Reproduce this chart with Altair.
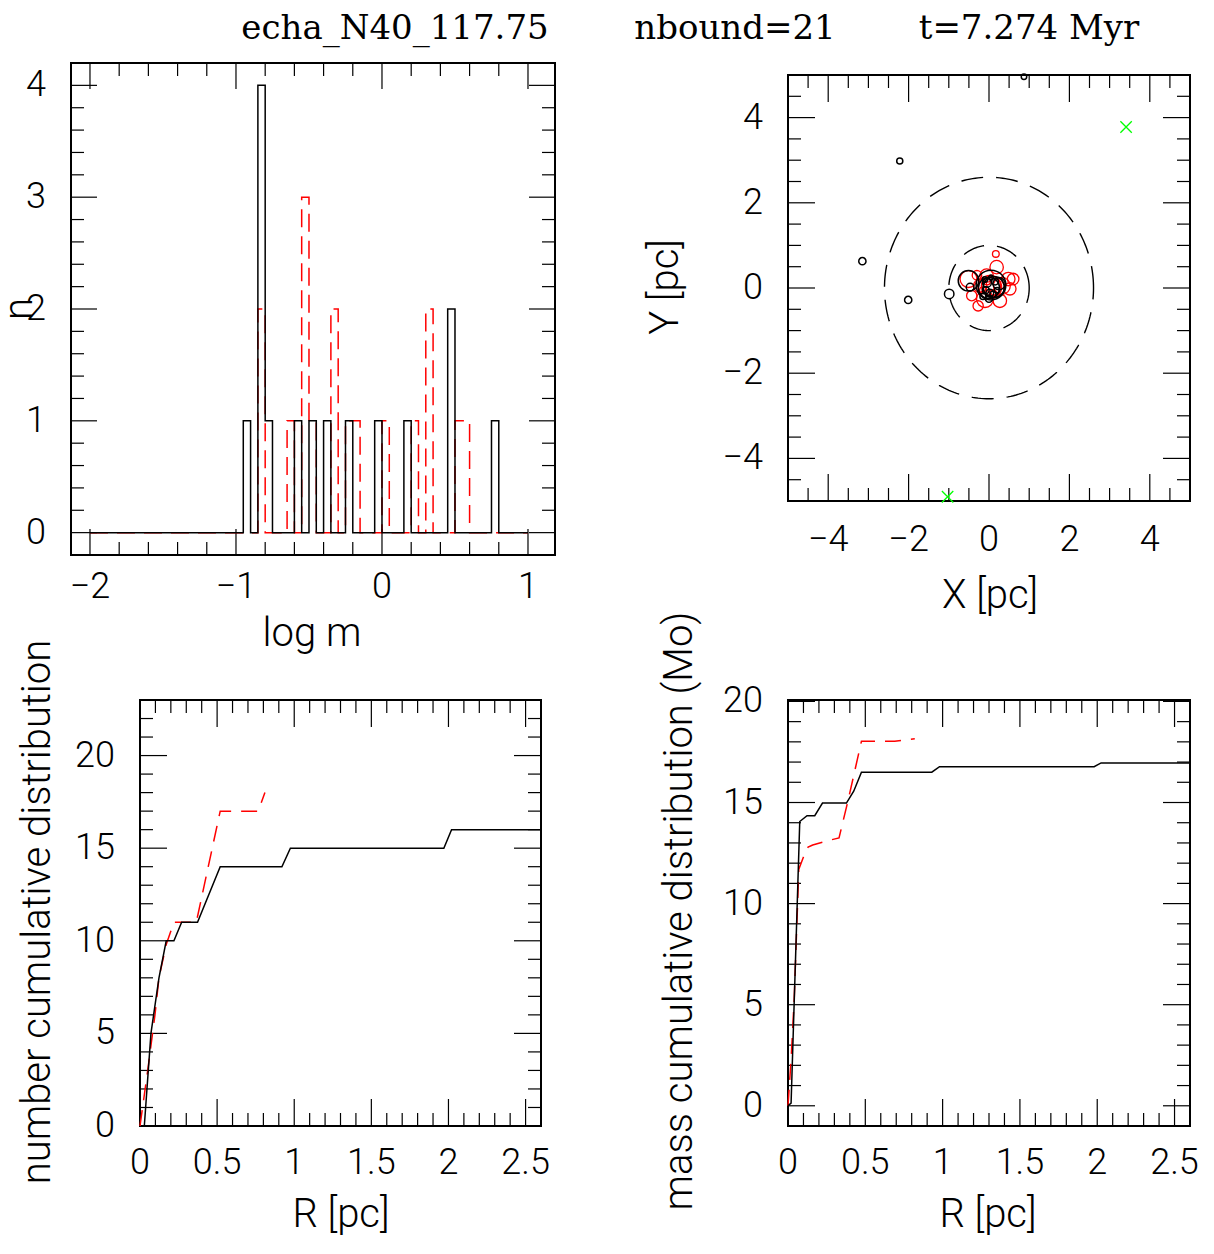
import altair as alt
import pandas as pd
import numpy as np

# ---------------- data ----------------
# Panel 1: histogram of log m (bin width 0.05 from -2 to 1)
hist_lo, hist_hi, hist_bw = -2.0, 1.0, 0.05
black_bins = [-0.95, -0.85, -0.80, -0.60, -0.50, -0.40, -0.25, -0.05, 0.15, 0.45, 0.75]
black_counts = [1, 4, 1, 1, 1, 1, 1, 1, 1, 2, 1]
red_bins = [-0.85, -0.65, -0.55, -0.50, -0.35, -0.25, -0.20, 0.00, 0.20, 0.30, 0.50, 0.55]
red_counts = [2, 1, 3, 1, 2, 1, 1, 1, 1, 2, 1, 1]

# Panel 2: positions (pc) and masses
black_x = [0.87, -2.22, -3.15, -2.01, -0.99, -0.47, -0.51, 0.05, 0.12, -0.05, 0.02, -0.08, 0.10, 0.15, -0.10, 0.00, 0.20, -0.15, 0.05, 0.25, 0.0]
black_y = [4.96, 2.98, 0.63, -0.28, -0.14, 0.02, 0.17, 0.07, 0.02, 0.12, -0.12, -0.05, -0.15, 0.15, 0.20, -0.25, -0.05, -0.20, 0.25, 0.10, 0.0]
black_m = [0.20, 0.25, 0.35, 0.35, 0.60, 0.40, 2.80, 5.90, 3.00, 0.50, 0.40, 0.30, 0.25, 0.30, 0.20, 0.35, 0.20, 0.25, 0.15, 1.00, 3.0]
red_x = [0.17, 0.19, -0.51, -0.43, -0.27, 0.48, 0.52, 0.27, -0.10, -0.06, 0.02, -0.22, 0.32, -0.05, 0.10, -0.15, 0.60, -0.30, 0.05]
red_y = [0.80, 0.49, 0.21, -0.18, -0.42, 0.21, -0.02, -0.30, -0.26, 0.29, 0.02, 0.05, 0.05, 0.15, -0.12, -0.05, 0.21, 0.30, 0.05]
red_m = [0.30, 1.20, 1.90, 0.70, 0.70, 1.20, 1.00, 1.20, 1.90, 1.20, 3.70, 1.20, 1.90, 0.30, 0.30, 0.30, 0.90, 0.60, 2.5]
escaper_x = [3.41, -1.03]
escaper_y = [3.78, -4.90]
ring_radii = [1.0, 2.6]

# Panel 3: number cumulative distribution
ncum_black_r = [0.028, 0.071, 0.123, 0.17, 0.22, 0.27, 0.373, 0.52, 0.92, 0.975, 1.97, 2.02, 2.6]
ncum_black_n = [0, 5, 8, 10, 10, 11, 11, 14, 14, 15, 15, 16, 16]
ncum_red_r = [0.0, 0.05, 0.097, 0.123, 0.17, 0.22, 0.31, 0.365, 0.52, 0.766, 0.81]
ncum_red_n = [0, 3, 6, 8, 9.8, 11, 11, 11, 17, 17, 18]

# Panel 4: mass cumulative distribution
mcum_black_r = [0.0, 0.02, 0.076, 0.123, 0.173, 0.223, 0.378, 0.425, 0.475, 0.93, 0.98, 1.98, 2.025, 2.6]
mcum_black_m = [0.0, 0.13, 14.06, 14.35, 14.35, 14.97, 14.97, 15.56, 16.5, 16.5, 16.77, 16.77, 16.96, 16.96]
mcum_red_r = [0.0, 0.02, 0.04, 0.07, 0.10, 0.13, 0.16, 0.25, 0.33, 0.39, 0.475, 0.69, 0.82]
mcum_red_m = [0.0, 2.28, 5.25, 11.7, 12.3, 12.8, 12.9, 13.1, 13.25, 15.15, 18.03, 18.03, 18.15]

# ticks
p1_xmaj = [-2, -1, 0, 1]
p1_ymaj = [0, 1, 2, 3, 4]
p2_maj = [-4, -2, 0, 2, 4]
r_maj = [0, 0.5, 1, 1.5, 2, 2.5]
p3_ymaj = [0, 5, 10, 15, 20]
p4_ymaj = [0, 5, 10, 15, 20]

FONT = "Roboto"
FW = 300
TICK_FS = 36
TITLE_FS = 40
W, H = 1198, 1238


def minor(lo, hi, step, majors):
    vals = np.round(np.arange(lo, hi + step / 2, step), 4)
    return [float(v) for v in vals if all(abs(v - m) > 1e-6 for m in majors)]


def fmt(v):
    return f"{v:g}".replace("-", "\u2212")


def panel(xdom, ydom, xr, yr, xmaj, xmin_, ymaj, ymin_, xlab_vals, ylab_vals,
          xlab_y, ylab_x, xtitle, xtitle_pos, ytitle, ytitle_pos, data_layers,
          major_len=27, minor_len=13):
    xs = alt.Scale(domain=xdom, range=[xr[0], xr[1]], nice=False, zero=False)
    ys = alt.Scale(domain=ydom, range=[yr[0], yr[1]], nice=False, zero=False)
    layers = []
    for vals, L in ((xmaj, major_len), (xmin_, minor_len)):
        df = pd.DataFrame({"v": vals})
        base = alt.Chart(df).mark_rule(color="black", strokeWidth=1.2)
        layers.append(base.encode(x=alt.X("v:Q", scale=xs, axis=None),
                                  y=alt.value(yr[0]), y2=alt.value(yr[0] - L)))
        layers.append(base.encode(x=alt.X("v:Q", scale=xs, axis=None),
                                  y=alt.value(yr[1]), y2=alt.value(yr[1] + L)))
    for vals, L in ((ymaj, major_len), (ymin_, minor_len)):
        df = pd.DataFrame({"v": vals})
        base = alt.Chart(df).mark_rule(color="black", strokeWidth=1.2)
        layers.append(base.encode(y=alt.Y("v:Q", scale=ys, axis=None),
                                  x=alt.value(xr[0]), x2=alt.value(xr[0] + L)))
        layers.append(base.encode(y=alt.Y("v:Q", scale=ys, axis=None),
                                  x=alt.value(xr[1]), x2=alt.value(xr[1] - L)))
    frame = pd.DataFrame({"x0": [xdom[0]], "x1": [xdom[1]], "y0": [ydom[0]], "y1": [ydom[1]]})
    layers.append(alt.Chart(frame).mark_rect(fillOpacity=0, stroke="black", strokeWidth=2).encode(
        x=alt.X("x0:Q", scale=xs, axis=None), x2="x1",
        y=alt.Y("y0:Q", scale=ys, axis=None), y2="y1"))
    # tick labels
    dfx = pd.DataFrame({"v": xlab_vals, "lab": [fmt(v) for v in xlab_vals]})
    layers.append(alt.Chart(dfx).mark_text(font=FONT, fontSize=TICK_FS, fontWeight=FW,
                                           align="center", baseline="alphabetic", color="black").encode(
        x=alt.X("v:Q", scale=xs, axis=None), y=alt.value(xlab_y), text="lab:N"))
    dfy = pd.DataFrame({"v": ylab_vals, "lab": [fmt(v) for v in ylab_vals]})
    layers.append(alt.Chart(dfy).mark_text(font=FONT, fontSize=TICK_FS, fontWeight=FW,
                                           align="right", baseline="middle", color="black").encode(
        y=alt.Y("v:Q", scale=ys, axis=None), x=alt.value(ylab_x), text="lab:N"))
    # axis titles
    tdf = pd.DataFrame({"t": [xtitle]})
    layers.append(alt.Chart(tdf).mark_text(font=FONT, fontSize=TITLE_FS, fontWeight=FW,
                                           align="center", baseline="alphabetic", color="black").encode(
        x=alt.value(xtitle_pos[0]), y=alt.value(xtitle_pos[1]), text="t:N"))
    tdf2 = pd.DataFrame({"t": [ytitle]})
    layers.append(alt.Chart(tdf2).mark_text(font=FONT, fontSize=TITLE_FS, fontWeight=FW, angle=270,
                                            align="center", baseline="alphabetic", color="black").encode(
        x=alt.value(ytitle_pos[0]), y=alt.value(ytitle_pos[1]), text="t:N"))
    for mk in data_layers:
        layers.append(mk(xs, ys))
    return alt.layer(*layers)


# ---------- panel 1 : histogram ----------
edges = np.round(np.arange(hist_lo, hist_hi + hist_bw / 2, hist_bw), 2)


def step_df(bins, counts):
    c = np.zeros(len(edges))
    for b, n in zip(bins, counts):
        idx = int(np.argmin(np.abs(edges - b)))
        c[idx] = n
    return pd.DataFrame({"x": edges, "n": c})


hb = step_df(black_bins, black_counts)
hr = step_df(red_bins, red_counts)


def p1_red(xs, ys):
    return alt.Chart(hr).mark_line(interpolate="step-after", color="#ff0000", strokeWidth=1.5,
                                   strokeDash=[18, 9]).encode(
        x=alt.X("x:Q", scale=xs, axis=None), y=alt.Y("n:Q", scale=ys, axis=None))


def p1_black(xs, ys):
    return alt.Chart(hb).mark_line(interpolate="step-after", color="black", strokeWidth=1.5).encode(
        x=alt.X("x:Q", scale=xs, axis=None), y=alt.Y("n:Q", scale=ys, axis=None))


p1 = panel([-2.13, 1.185], [-0.2, 4.2], (63, 547), (547, 55),
           p1_xmaj, minor(-2.0, 1.0, 0.2, p1_xmaj), p1_ymaj, minor(0, 4.2, 0.2, p1_ymaj),
           p1_xmaj, p1_ymaj, 590, 38, "log m", (304, 638), "n", (24, 301),
           [p1_red, p1_black], major_len=26, minor_len=13)

# ---------- panel 2 : XY scatter ----------
bdf = pd.DataFrame({"x": black_x, "y": black_y, "m": black_m})
rdf = pd.DataFrame({"x": red_x, "y": red_y, "m": red_m})
edf = pd.DataFrame({"x": escaper_x, "y": escaper_y})
th = np.linspace(0, 2 * np.pi, 241)
ring_rows = []
for r in ring_radii:
    for i, t in enumerate(th):
        ring_rows.append({"r": r, "i": i, "x": r * np.cos(t), "y": r * np.sin(t)})
ringdf = pd.DataFrame(ring_rows)
size_scale = alt.Scale(domain=[0, 6], range=[0, 900])


def p2_rings(xs, ys):
    return alt.Chart(ringdf).mark_line(color="black", strokeWidth=1.4, strokeDash=[22, 13]).encode(
        x=alt.X("x:Q", scale=xs, axis=None), y=alt.Y("y:Q", scale=ys, axis=None),
        detail="r:N", order="i:Q")


def p2_red(xs, ys):
    return alt.Chart(rdf).mark_point(shape="circle", filled=False, color="#ff0000", strokeWidth=1.3,
                                     opacity=1).encode(
        x=alt.X("x:Q", scale=xs, axis=None), y=alt.Y("y:Q", scale=ys, axis=None),
        size=alt.Size("m:Q", scale=size_scale, legend=None))


def p2_black(xs, ys):
    return alt.Chart(bdf).mark_point(shape="circle", filled=False, color="black", strokeWidth=1.5,
                                     opacity=1).encode(
        x=alt.X("x:Q", scale=xs, axis=None), y=alt.Y("y:Q", scale=ys, axis=None),
        size=alt.Size("m:Q", scale=size_scale, legend=None))


def p2_esc(xs, ys):
    return alt.Chart(edf).mark_point(shape="M-1,-1L1,1M-1,1L1,-1", filled=False, color="#00ff00",
                                     strokeWidth=1.3, size=130, opacity=1).encode(
        x=alt.X("x:Q", scale=xs, axis=None), y=alt.Y("y:Q", scale=ys, axis=None))


p2 = panel([-5, 5], [-5, 5], (780, 1182), (493, 67),
           p2_maj, minor(-5, 5, 0.5, p2_maj + [-5, 5]), p2_maj, minor(-5, 5, 0.5, p2_maj + [-5, 5]),
           p2_maj, p2_maj, 543, 755, "X [pc]", (982, 600), "Y [pc]", (670, 279),
           [p2_rings, p2_red, p2_black, p2_esc])

# ---------- panel 3 : number cumulative ----------
n_b = pd.DataFrame({"r": ncum_black_r, "n": ncum_black_n})
n_r = pd.DataFrame({"r": ncum_red_r, "n": ncum_red_n})


def mk_line(df, field, color, dash=None):
    def f(xs, ys):
        kw = dict(color=color, strokeWidth=1.5)
        if dash:
            kw["strokeDash"] = dash
        return alt.Chart(df).mark_line(**kw).encode(
            x=alt.X("r:Q", scale=xs, axis=None), y=alt.Y(f"{field}:Q", scale=ys, axis=None))
    return f


p3 = panel([0, 2.6], [0, 23], (132, 533), (1118, 692),
           r_maj[1:], minor(0, 2.6, 0.1, r_maj), p3_ymaj[1:], minor(0, 23, 1, p3_ymaj),
           r_maj, p3_ymaj, 1166, 107, "R [pc]", (333, 1219),
           "number cumulative distribution", (42, 904),
           [mk_line(n_r, "n", "#ff0000", [16, 10]), mk_line(n_b, "n", "black")])

# ---------- panel 4 : mass cumulative ----------
m_b = pd.DataFrame({"r": mcum_black_r, "m": mcum_black_m})
m_r = pd.DataFrame({"r": mcum_red_r, "m": mcum_red_m})

p4 = panel([0, 2.6], [-1, 20.07], (780, 1182), (1118, 692),
           r_maj[1:], minor(0, 2.6, 0.1, r_maj), p4_ymaj, minor(-1, 20, 1, p4_ymaj + [-1]),
           r_maj, p4_ymaj, 1166, 755, "R [pc]", (980, 1219),
           "mass cumulative distribution  (Mo)", (684, 903),
           [mk_line(m_r, "m", "#ff0000", [16, 10]), mk_line(m_b, "m", "black")])

# ---------- overall title ----------
title_parts = ["echa_N40_117.75", "nbound=21", "t=7.274 Myr"]
title_x = [387, 727, 1021]
tdf = pd.DataFrame({"t": title_parts, "px": title_x})
title = alt.Chart(tdf).mark_text(font="DejaVu Serif", fontSize=34, align="center",
                                 baseline="alphabetic", color="black").encode(
    x=alt.X("px:Q", scale=alt.Scale(domain=[0, W], range=[0, W], nice=False, zero=False), axis=None),
    y=alt.value(31), text="t:N")

chart = alt.layer(p1, p2, p3, p4, title).resolve_scale(
    x="independent", y="independent", size="independent"
).properties(
    width=W, height=H, padding=0, autosize=alt.AutoSizeParams(type="none")
).configure(
    background="white", view=alt.ViewConfig(stroke="transparent", strokeWidth=0)
)

chart.save("out.html", embed_options={"renderer": "svg", "actions": False})
